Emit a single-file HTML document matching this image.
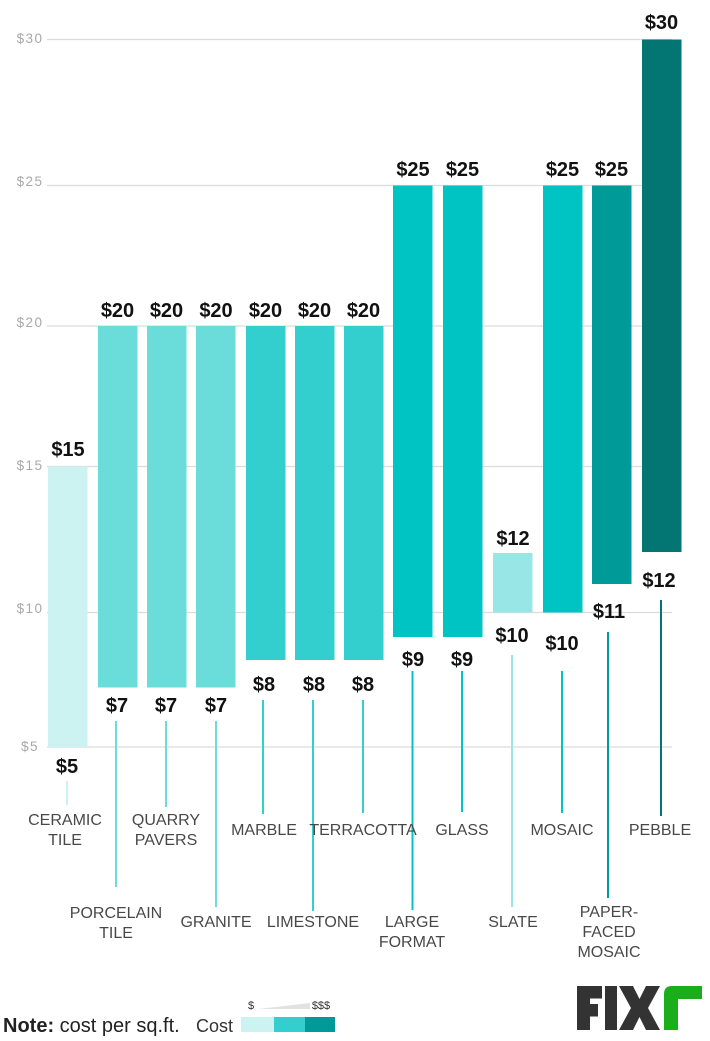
<!DOCTYPE html>
<html><head><meta charset="utf-8"><style>
html,body{margin:0;padding:0;background:#fff;}
svg{display:block;}
</style></head><body>
<svg width="710" height="1041" viewBox="0 0 710 1041" xmlns="http://www.w3.org/2000/svg" font-family="'Liberation Sans', sans-serif">
<rect width="710" height="1041" fill="#fff"/>
<!-- gridlines -->
<g stroke="#dcdcdc" stroke-width="1.3">
<line x1="47" y1="39.5" x2="672" y2="39.5"/>
<line x1="47" y1="185.5" x2="672" y2="185.5"/>
<line x1="47" y1="326" x2="672" y2="326"/>
<line x1="47" y1="466.5" x2="672" y2="466.5"/>
<line x1="47" y1="612.5" x2="672" y2="612.5"/>
<line x1="47" y1="747" x2="672" y2="747"/>
</g>
<g fill="#a8a8a8" font-size="13.5" text-anchor="middle" letter-spacing="1.4">
<text x="30" y="43">$30</text>
<text x="30" y="186">$25</text>
<text x="30" y="327">$20</text>
<text x="30" y="470">$15</text>
<text x="30" y="613">$10</text>
<text x="30" y="751">$5</text>
</g>
<!-- bars -->
<rect x="48" y="466.5" width="39.5" height="280.5" fill="#ccf2f2"/>
<rect x="98" y="326" width="39.5" height="361.5" fill="#6addda"/>
<rect x="147" y="326" width="39.5" height="361.5" fill="#6addda"/>
<rect x="196" y="326" width="39.5" height="361.5" fill="#6addda"/>
<rect x="246" y="326" width="39.5" height="334" fill="#33cfcf"/>
<rect x="295" y="326" width="39.5" height="334" fill="#33cfcf"/>
<rect x="344" y="326" width="39.5" height="334" fill="#33cfcf"/>
<rect x="393" y="185.5" width="39.5" height="451.5" fill="#00c4c4"/>
<rect x="443" y="185.5" width="39.5" height="451.5" fill="#00c4c4"/>
<rect x="493" y="553" width="39.5" height="59.5" fill="#99e6e6"/>
<rect x="543" y="185.5" width="39.5" height="427" fill="#00c4c4"/>
<rect x="592" y="185.5" width="39.5" height="398.5" fill="#009b98"/>
<rect x="642" y="39.5" width="39.5" height="512.5" fill="#037572"/>
<!-- leader lines -->
<g stroke-width="2">
<line x1="67" y1="781" x2="67" y2="805" stroke="#ccf2f2"/>
<line x1="116" y1="721" x2="116" y2="887" stroke="#6addda"/>
<line x1="166" y1="721" x2="166" y2="807" stroke="#6addda"/>
<line x1="216" y1="721" x2="216" y2="907" stroke="#6addda"/>
<line x1="263" y1="700" x2="263" y2="814" stroke="#33cfcf"/>
<line x1="313" y1="700" x2="313" y2="911" stroke="#33cfcf"/>
<line x1="363" y1="700" x2="363" y2="813" stroke="#33cfcf"/>
<line x1="412.5" y1="671" x2="412.5" y2="910" stroke="#00c4c4"/>
<line x1="462" y1="671" x2="462" y2="812" stroke="#00c4c4"/>
<line x1="512" y1="655" x2="512" y2="907" stroke="#99e6e6"/>
<line x1="562" y1="671" x2="562" y2="813" stroke="#00c4c4"/>
<line x1="608" y1="632" x2="608" y2="898" stroke="#009b98"/>
<line x1="661" y1="600" x2="661" y2="816" stroke="#037572"/>
</g>
<!-- value labels -->
<g fill="#111" font-size="20" font-weight="bold" text-anchor="middle">
<text x="68" y="456">$15</text>
<text x="117.5" y="317">$20</text>
<text x="166.5" y="317">$20</text>
<text x="216" y="317">$20</text>
<text x="265.5" y="317">$20</text>
<text x="314.5" y="317">$20</text>
<text x="363.5" y="317">$20</text>
<text x="413" y="176">$25</text>
<text x="462.5" y="176">$25</text>
<text x="513" y="545">$12</text>
<text x="562.5" y="176">$25</text>
<text x="611.5" y="176">$25</text>
<text x="661.5" y="29">$30</text>

<text x="67" y="773">$5</text>
<text x="117" y="712">$7</text>
<text x="166" y="712">$7</text>
<text x="216" y="712">$7</text>
<text x="264" y="691">$8</text>
<text x="314" y="691">$8</text>
<text x="363" y="691">$8</text>
<text x="413" y="666">$9</text>
<text x="462" y="666">$9</text>
<text x="512" y="642">$10</text>
<text x="562" y="650">$10</text>
<text x="609" y="618">$11</text>
<text x="659" y="587">$12</text>
</g>
<!-- category labels -->
<g fill="#484848" font-size="16" text-anchor="middle">
<text x="65" y="825">CERAMIC</text>
<text x="65" y="845">TILE</text>
<text x="166" y="825">QUARRY</text>
<text x="166" y="845">PAVERS</text>
<text x="264" y="835">MARBLE</text>
<text x="363" y="835">TERRACOTTA</text>
<text x="462" y="835">GLASS</text>
<text x="562" y="835">MOSAIC</text>
<text x="660" y="835">PEBBLE</text>
<text x="116" y="918">PORCELAIN</text>
<text x="116" y="938">TILE</text>
<text x="216" y="927">GRANITE</text>
<text x="313" y="927">LIMESTONE</text>
<text x="412" y="927">LARGE</text>
<text x="412" y="947">FORMAT</text>
<text x="513" y="927">SLATE</text>
<text x="609" y="917">PAPER-</text>
<text x="609" y="937">FACED</text>
<text x="609" y="957">MOSAIC</text>
</g>
<!-- note -->
<text x="3" y="1032" font-size="20" fill="#222"><tspan font-weight="bold">Note:</tspan><tspan> cost per sq.ft.</tspan></text>
<text x="196" y="1032" font-size="18" fill="#333">Cost</text>
<rect x="241" y="1017" width="33" height="15" fill="#ccf2f2"/>
<rect x="274" y="1017" width="31" height="15" fill="#33cfcf"/>
<rect x="305" y="1017" width="30" height="15" fill="#009b98"/>
<polygon points="258,1009 310,1003 310,1009" fill="#e2e2e2"/>
<g font-size="11" fill="#333" text-anchor="middle">
<text x="251" y="1009">$</text>
<text x="321" y="1009">$$$</text>
</g>
<!-- logo -->
<g fill="#333">
<rect x="577" y="986" width="13" height="44"/>
<rect x="577" y="986" width="25" height="12.5"/>
<rect x="577" y="1004" width="21" height="12.5"/>
<rect x="605" y="986" width="12" height="44"/>
<polygon points="619,986 633,986 639.5,999 646,986 660,986 648,1008 660,1030 646,1030 639.5,1017 633,1030 619,1030 631,1008"/>
</g>
<path d="M664,1030 L664,994 Q664,986 672,986 L702,986 L702,999 L678,999 L678,1030 Z" fill="#1aaf1a"/>
</svg>
</body></html>
